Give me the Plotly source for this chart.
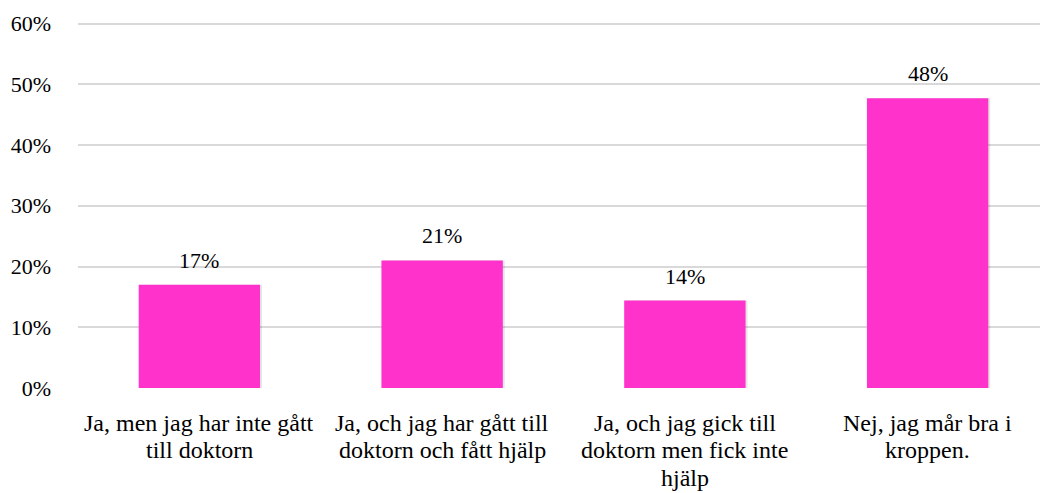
import plotly.graph_objects as go

categories = [
    "Ja, men jag har inte gått<br>till doktorn",
    "Ja, och jag har gått till<br>doktorn och fått hjälp",
    "Ja, och jag gick till<br>doktorn men fick inte<br>hjälp",
    "Nej, jag mår bra i<br>kroppen.",
]
values = [0.170, 0.210, 0.144, 0.477]
labels = ["17%", "21%", "14%", "48%"]
y_ticks = [0, 0.1, 0.2, 0.3, 0.4, 0.5, 0.6]
y_tick_text = ["0%", "10%", "20%", "30%", "40%", "50%", "60%"]

FONT = "Times New Roman"
BAR = "#FF33CC"

x_idx = list(range(len(categories)))

fig = go.Figure()
# subtle shadow
fig.add_trace(go.Bar(
    x=x_idx, y=values, width=0.5, marker=dict(color="rgba(0,0,0,0.10)", line=dict(width=0)),
    offset=-0.25 + 0.008, hoverinfo="skip", showlegend=False,
))
fig.add_trace(go.Bar(
    x=x_idx, y=values, width=0.5, marker=dict(color=BAR, line=dict(width=0)),
    offset=-0.25, showlegend=False,
))
fig.update_layout(barmode="overlay")

# value labels
for i, (v, t) in enumerate(zip(values, labels)):
    fig.add_annotation(x=i, y=v, text=t, showarrow=False, yanchor="bottom",
                       yshift=10, font=dict(family=FONT, size=22, color="#000000"))

# category labels (one annotation per line for tighter line spacing)
LINE_SHIFTS = [-34.5, -62, -89.5]
for i, cat in enumerate(categories):
    for j, line in enumerate(cat.split("<br>")):
        fig.add_annotation(x=i, y=0, xref="x", yref="paper", text=line,
                           showarrow=False, yanchor="middle", xanchor="center",
                           yshift=LINE_SHIFTS[j],
                           font=dict(family=FONT, size=24, color="#000000"))

fig.update_layout(
    width=1040, height=493,
    margin=dict(l=78, r=0, t=22, b=105, autoexpand=False),
    paper_bgcolor="white", plot_bgcolor="white",
    font=dict(family=FONT, size=22, color="#000000"),
    xaxis=dict(
        range=[-0.5, 3.5 - 9 / 242.7], automargin=False,
        tickmode="array", tickvals=x_idx, ticktext=[""] * len(x_idx),
        showgrid=False, zeroline=False, showline=False, ticks="",
        showticklabels=False,
    ),
    yaxis=dict(
        range=[0, 0.6025], automargin=False,
        tickmode="array", tickvals=y_ticks, ticktext=y_tick_text,
        showgrid=True, gridcolor="#D9D9D9", gridwidth=1.5,
        zeroline=False, showline=False, ticks="",
        ticklabelstandoff=26,
        tickfont=dict(family=FONT, size=22, color="#000000"),
    ),
)

fig.write_html("out.html", config={"displayModeBar": False},
               post_script="document.body.style.margin='0';")
